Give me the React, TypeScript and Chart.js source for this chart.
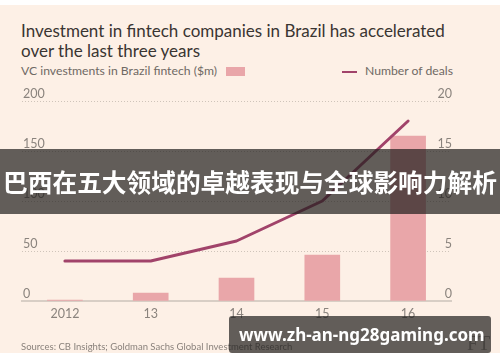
import { useEffect, useRef } from 'react';
import { Chart, registerables } from 'chart.js';

Chart.register(...registerables);

const categories = ['2012', '13', '14', '15', '16'];
const vcInvestments = [1, 8, 23, 46, 165];
const numberOfDeals = [4, 4, 6, 10, 18];
const leftTicks = [0, 50, 100, 150, 200];
const rightTicks = [0, 5, 10, 15, 20];

const BAR = '#e9a6a9';
const LINE = '#a1436a';
const TICK = '#8a837d';
const BEIGE = '#fdf0e6';
const FONT = 'Lato, "Open Sans", sans-serif';

export default function App() {
  const ref = useRef<HTMLCanvasElement | null>(null);

  useEffect(() => {
    const canvas = ref.current;
    if (!canvas) return;
    const tickFont = { family: FONT, size: 12.5 };
    const chart = new Chart(canvas, {
      type: 'bar',
      data: {
        labels: categories,
        datasets: [
          {
            type: 'line',
            label: 'Number of deals',
            data: numberOfDeals,
            yAxisID: 'y1',
            borderColor: LINE,
            backgroundColor: LINE,
            borderWidth: 3,
            pointRadius: 0,
            tension: 0,
            order: 0,
            borderCapStyle: 'round',
            borderJoinStyle: 'round',
          } as any,
          {
            type: 'bar',
            label: 'VC investments in Brazil fintech ($m)',
            data: vcInvestments,
            yAxisID: 'y',
            backgroundColor: BAR,
            barThickness: 35,
            order: 1,
          } as any,
        ],
      },
      options: {
        responsive: false,
        animation: false,
        devicePixelRatio: 1,
        layout: { padding: { left: 20, right: 47, top: 101, bottom: 36 } },
        plugins: {
          legend: { display: false },
          tooltip: { enabled: false },
          title: { display: false },
        },
        scales: {
          x: {
            grid: { display: false, drawTicks: false },
            border: { display: true, color: '#d8cec5', width: 2 },
            ticks: { color: TICK, font: tickFont, padding: 5 },
          },
          y: {
            position: 'left',
            min: 0,
            max: 200,
            afterBuildTicks: (axis: any) => {
              axis.ticks = leftTicks.map((v) => ({ value: v }));
            },
            ticks: { mirror: true, padding: 1, labelOffset: -7, color: TICK, font: tickFont },
            grid: {
              drawTicks: false,
              lineWidth: 1,
              color: (ctx: any) =>
                ctx.tick && ctx.tick.value === 0 ? 'rgba(0,0,0,0)' : '#cfc4ba',
            },
            border: { display: false, dash: [1, 2] },
          },
          y1: {
            position: 'right',
            min: 0,
            max: 20,
            afterBuildTicks: (axis: any) => {
              axis.ticks = rightTicks.map((v) => ({ value: v }));
            },
            ticks: { mirror: true, padding: 1, labelOffset: -7, color: TICK, font: tickFont },
            grid: { display: false, drawTicks: false },
            border: { display: false },
          },
        },
      } as any,
    });
    return () => chart.destroy();
  }, []);

  const abs = (s: any) => ({ position: 'absolute' as const, ...s });

  return (
    <div style={abs({ left: 0, top: 0, width: 500, height: 362, background: '#ffffff', overflow: 'hidden', fontFamily: FONT })}>
      <div style={abs({ left: 0, top: 5, width: 500, height: 348, background: BEIGE })} />
      <div style={abs({ left: 21, top: 20.5, fontSize: 17, lineHeight: '20px', color: '#3a3532', whiteSpace: 'nowrap' })}>
        Investment in fintech companies in Brazil has accelerated
        <br />
        over the last three years
      </div>
      <div style={abs({ left: 21, top: 64, fontSize: 12.2, lineHeight: '14px', color: '#6f6964', whiteSpace: 'nowrap' })}>
        VC investments in Brazil fintech ($m)
      </div>
      <div style={abs({ left: 226, top: 67, width: 19, height: 9, background: BAR })} />
      <div style={abs({ left: 342, top: 70.5, width: 15, height: 2.5, background: LINE })} />
      <div style={abs({ left: 365, top: 64, fontSize: 12.2, lineHeight: '14px', color: '#6f6964', whiteSpace: 'nowrap' })}>
        Number of deals
      </div>
      <canvas ref={ref} width={500} height={362} style={abs({ left: 0, top: 0, width: 500, height: 362 })} />
      <div style={abs({ left: 21, top: 341, fontSize: 9.5, lineHeight: '12px', color: '#8a827c', whiteSpace: 'nowrap' })}>
        Sources: CB Insights; Goldman Sachs Global Investment Research
      </div>
      <div style={abs({ left: 467, top: 331, fontSize: 20, lineHeight: '24px', color: '#a59c94', fontFamily: '"Liberation Serif", "DejaVu Serif", serif' })}>
        FT
      </div>
      <div
        style={abs({
          left: 0,
          top: 149,
          width: 500,
          height: 65,
          background: 'rgba(32,30,29,0.7)',
          color: '#ffffff',
          fontFamily: '"Noto Sans CJK SC", sans-serif',
          fontWeight: 700,
          fontSize: 24.7,
          lineHeight: '65px',
          textAlign: 'center',
          whiteSpace: 'nowrap',
        })}
      >
        巴西在五大领域的卓越表现与全球影响力解析
      </div>
      <div
        style={abs({
          left: 229,
          top: 316,
          width: 262,
          height: 37,
          borderRadius: 3,
          background: 'rgba(32,30,29,0.7)',
          color: '#ffffff',
          fontFamily: '"Noto Sans", "Open Sans", sans-serif',
          fontWeight: 700,
          fontSize: 17,
          lineHeight: '37px',
          paddingLeft: 10,
          boxSizing: 'border-box',
          whiteSpace: 'nowrap',
        })}
      >
        www.zh-an-ng28gaming.com
      </div>
    </div>
  );
}
